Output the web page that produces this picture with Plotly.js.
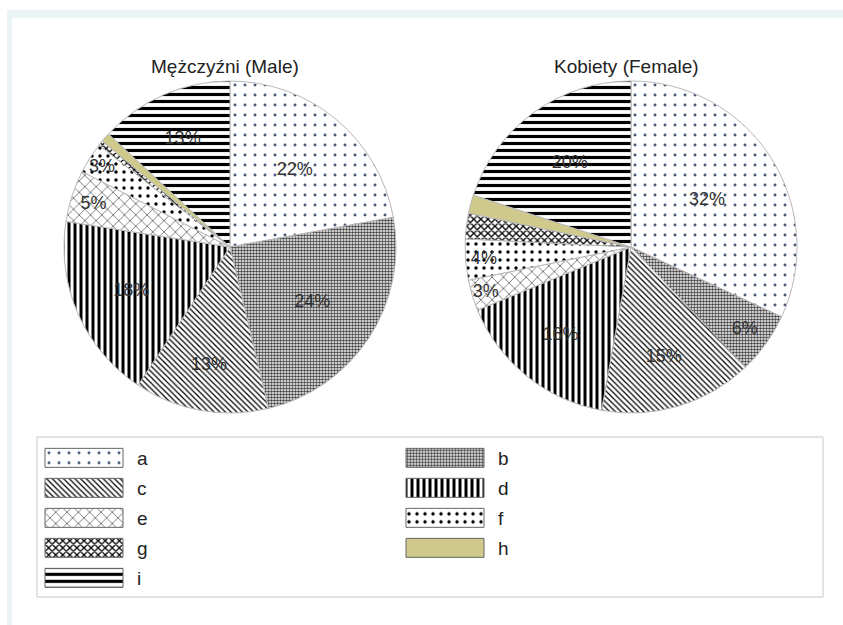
<!DOCTYPE html>
<html>
<head>
<meta charset="utf-8">
<script src="https://cdn.plot.ly/plotly-3.0.1.min.js"></script>
<style>
  html, body { margin: 0; padding: 0; background: #ffffff; }
  #chart { width: 843px; height: 625px; }
</style>
</head>
<body>
<div id="chart"></div>
<script>
// Category labels shared by both pies
const categories = ['a', 'b', 'c', 'd', 'e', 'f', 'g', 'h', 'i'];

// Shares in percent
const maleValues   = [22, 24, 13, 18, 5, 3, 0.5, 0.9, 13];
const femaleValues = [32, 6, 15, 16, 3, 4, 2.5, 1.8, 20];

// Panel titles
const maleTitle   = 'Mężczyźni (Male)';
const femaleTitle = 'Kobiety (Female)';

// Fill style for each category (hatching patterns, h is a flat khaki fill)
const patternShapes = ['.', '.', '\\', '|', 'x', '.', 'x', '', '-'];
const patternFg     = ['#4a5a78', '#444444', '#000000', '#000000', '#000000', '#000000', '#000000', '#000000', '#000000'];
const patternSize   = [10, 3, 4, 6, 8, 8, 5, 8, 7];
const patternSolid  = [0.07, 0.55, 0.3, 0.5, 0.12, 0.14, 0.45, 0.3, 0.45];
const sliceColors   = ['#ffffff', '#ffffff', '#ffffff', '#ffffff', '#ffffff', '#ffffff', '#ffffff', '#d0c98c', '#ffffff'];

const FONT = '"Liberation Sans", Arial, sans-serif';
const W = 843, H = 625;

function labelTemplates(vals) {
  return vals.map(v => (v >= 3 ? '%{value}%' : ''));
}

function pieTrace(vals, domain) {
  return {
    type: 'pie',
    labels: categories,
    values: vals,
    sort: false,
    direction: 'clockwise',
    rotation: 0,
    domain: domain,
    texttemplate: labelTemplates(vals),
    textposition: 'inside',
    insidetextorientation: 'horizontal',
    textfont: { family: FONT, size: 18, color: '#333333' },
    hoverinfo: 'label+value',
    marker: {
      colors: sliceColors,
      line: { color: '#b8b8b8', width: 1 },
      pattern: {
        shape: patternShapes,
        fgcolor: patternFg,
        bgcolor: sliceColors,
        size: patternSize,
        solidity: patternSolid,
        fillmode: 'replace'
      }
    }
  };
}

const px = (x) => x / W;
const py = (y) => 1 - y / H;

const data = [
  pieTrace(maleValues,   { x: [px(64), px(396)],  y: [py(413), py(81)] }),
  pieTrace(femaleValues, { x: [px(465), px(797)], y: [py(413), py(81)] })
];

const layout = {
  width: W,
  height: H,
  margin: { l: 0, r: 0, t: 0, b: 0 },
  paper_bgcolor: '#ffffff',
  font: { family: FONT, color: '#222222' },
  showlegend: true,
  legend: {
    orientation: 'h',
    x: px(37), xanchor: 'left',
    y: py(439), yanchor: 'top',
    itemwidth: 90,
    entrywidth: 256,
    entrywidthmode: 'pixels',
    font: { family: FONT, size: 19, color: '#222222' },
    bgcolor: 'rgba(0,0,0,0)',
    borderwidth: 0,
    itemclick: false,
    itemdoubleclick: false
  },
  uniformtext: { minsize: 18, mode: 'show' },
  annotations: [
    { text: maleTitle,   x: px(225), y: py(67), xref: 'paper', yref: 'paper',
      xanchor: 'center', yanchor: 'middle', showarrow: false,
      font: { family: FONT, size: 19, color: '#222222' } },
    { text: femaleTitle, x: px(626), y: py(67), xref: 'paper', yref: 'paper',
      xanchor: 'center', yanchor: 'middle', showarrow: false,
      font: { family: FONT, size: 19, color: '#222222' } }
  ],
  shapes: [
    // light frame band along the top and left edges
    { type: 'rect', xref: 'paper', yref: 'paper', x0: px(7), x1: 1, y0: py(18), y1: py(10),
      fillcolor: '#eaf4f5', line: { width: 0 }, layer: 'below' },
    { type: 'rect', xref: 'paper', yref: 'paper', x0: px(7), x1: px(12), y0: 0, y1: py(18),
      fillcolor: '#eaf4f5', line: { width: 0 }, layer: 'below' },
    // legend frame
    { type: 'rect', xref: 'paper', yref: 'paper', x0: px(37), x1: px(823), y0: py(597), y1: py(437),
      fillcolor: 'rgba(0,0,0,0)', line: { color: '#c8c8c8', width: 1 }, layer: 'below' }
  ]
};

// Widen the legend swatches into long bars and space the rows evenly
function styleLegend() {
  document.querySelectorAll('.legend .traces path.legendpie').forEach(p => {
    p.setAttribute('d', 'M-39,-9.5H39V9.5H-39Z');
    p.setAttribute('transform', 'translate(47,0)');
    p.style.strokeWidth = '1px';
    p.style.stroke = '#666666';
  });
  const items = Array.from(document.querySelectorAll('.legend .traces'));
  const parsed = items.map(el => {
    const m = /translate\(\s*([-\d.]+)[ ,]+([-\d.]+)\s*\)/.exec(el.getAttribute('transform') || '');
    return { el, x: m ? +m[1] : 0, y: m ? +m[2] : 0 };
  });
  const rowsY = Array.from(new Set(parsed.map(p => p.y))).sort((a, b) => a - b);
  const rowGap = 30;
  parsed.forEach(p => {
    const row = rowsY.indexOf(p.y);
    p.el.setAttribute('transform', 'translate(' + p.x + ',' + (rowsY[0] + row * rowGap) + ')');
  });
}

Plotly.newPlot('chart', data, layout, { displayModeBar: false, staticPlot: true })
  .then(styleLegend);
</script>
</body>
</html>
